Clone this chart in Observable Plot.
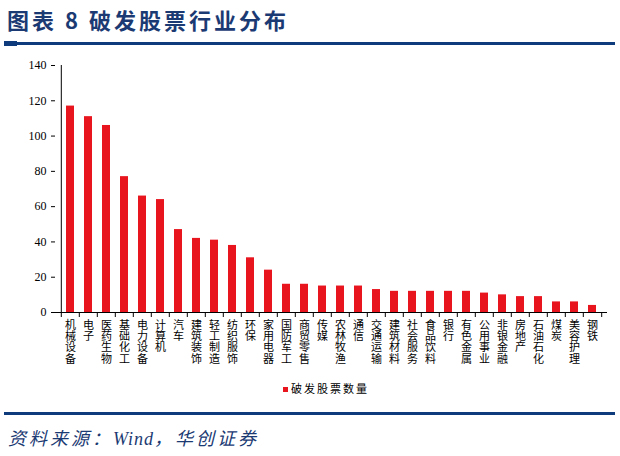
<!DOCTYPE html>
<html><head><meta charset="utf-8">
<script src="https://cdn.jsdelivr.net/npm/d3@7"></script>
<script src="https://cdn.jsdelivr.net/npm/@observablehq/plot@0.6"></script>
<style>
body{margin:0;background:#fff;}
#wrap{position:relative;width:620px;height:456px;overflow:hidden;background:#fff;}
#title{position:absolute;left:7px;top:3px;font-family:"Noto Sans CJK SC",sans-serif;font-size:22px;font-weight:bold;color:#1b3a73;letter-spacing:3px;white-space:nowrap;line-height:32px;}
#topline{position:absolute;left:4px;top:42px;width:611px;height:3px;background:#0d3b7b;}
#topmark{position:absolute;left:4px;top:41px;width:13px;height:5px;background:#0d3b7b;}
#chart{position:absolute;left:0;top:50px;}
#legend{position:absolute;left:283px;top:380px;font-family:"Noto Sans CJK SC",sans-serif;font-size:11px;letter-spacing:2px;color:#000;white-space:nowrap;line-height:16px;}
#legend span.sw{display:inline-block;width:5px;height:5px;background:#e8141e;margin-right:3px;vertical-align:middle;position:relative;top:-1px;}
#botline{position:absolute;left:4px;top:412px;width:611px;height:3px;background:#0d3b7b;}
#caption{position:absolute;left:8px;top:423px;font-family:"Noto Sans CJK SC",sans-serif;font-size:18px;font-style:italic;color:#1b3a73;white-space:nowrap;line-height:28px;letter-spacing:3px;}
</style>
</head><body>
<div id="wrap">
  <div id="title">图表 8 破发股票行业分布</div>
  <div id="topmark"></div>
  <div id="topline"></div>
  <div id="chart"></div>
  <div id="legend"><span class="sw"></span>破发股票数量</div>
  <div id="botline"></div>
  <div id="caption">资料来源：<span style="font-family:'Liberation Serif';letter-spacing:1px;">Wind</span>，华创证券</div>
</div>
<script>
const categories = ["机械设备","电子","医药生物","基础化工","电力设备","计算机","汽车","建筑装饰","轻工制造","纺织服饰","环保","家用电器","国防军工","商贸零售","传媒","农林牧渔","通信","交通运输","建筑材料","社会服务","食品饮料","银行","有色金属","公用事业","非银金融","房地产","石油石化","煤炭","美容护理","钢铁"];
const counts = [117,111,106,77,66,64,47,42,41,38,31,24,16,16,15,15,15,13,12,12,12,12,12,11,10,9,9,6,6,4];
const yTicks = [0,20,40,60,80,100,120,140];

const data = categories.map((c, i) => ({cat: c, n: counts[i]}));
const W = 620, ML = 55, MR = 13;
const step = (W - ML - MR) / categories.length;

const chart = Plot.plot({
  width: W, height: 330,
  marginTop: 15, marginBottom: 68, marginLeft: ML, marginRight: MR,
  style: {fontFamily: "Liberation Serif", fontSize: "12px", color: "#000", background: "transparent", overflow: "visible"},
  x: {domain: categories, paddingInner: 0.56, paddingOuter: 0.28, axis: null, label: null},
  y: {domain: [0, 140], axis: null, label: null},
  marks: [
    Plot.barY(data, {x: "cat", y: "n", fill: "#e8141e"}),
    Plot.ruleY([0], {stroke: "#000"}),
    Plot.ruleX([categories[0]], {y1: 0, y2: 140, dx: -step / 2, stroke: "#000"}),
    Plot.axisY({ticks: yTicks, tickSize: 4, tickPadding: 5, label: null, fontSize: 12, fontFamily: "Liberation Serif"}),
    Plot.axisX({tickSize: 5, tickFormat: () => "", dx: -step / 2, label: null}),
    Plot.axisX([categories[categories.length - 1]], {tickSize: 5, tickFormat: () => "", dx: step / 2, label: null}),
    Plot.axisX({tickSize: 0, tickPadding: 8, tickFormat: d => d.split("").join("\n"), lineHeight: 1.03, fontFamily: "Liberation Sans, Noto Sans CJK SC", fontSize: 11, label: null})
  ]
});
document.getElementById("chart").appendChild(chart);
</script>
</body></html>
